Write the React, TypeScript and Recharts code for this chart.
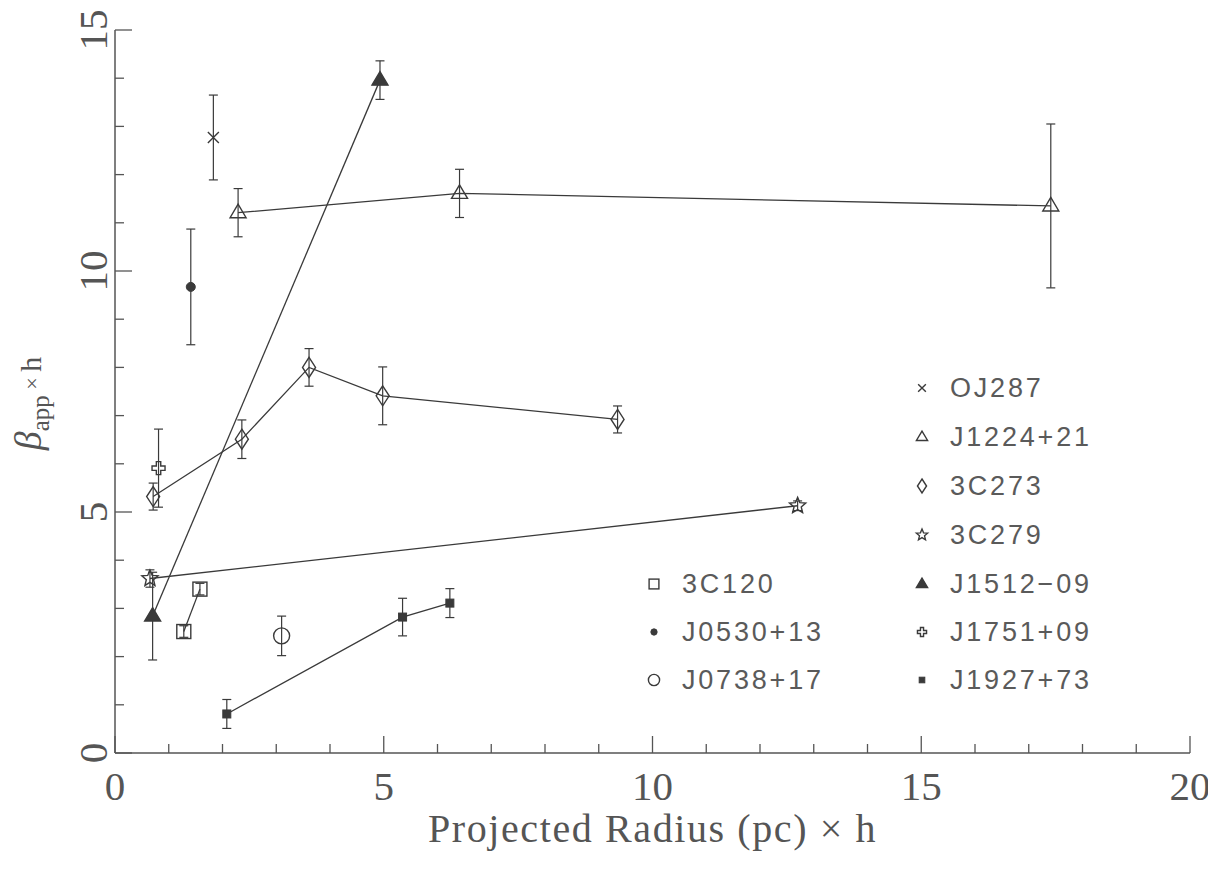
import React from 'react';
import { ScatterChart, Scatter, XAxis, YAxis, ErrorBar, Customized } from 'recharts';

// Projected radius (pc × h), apparent speed (β_app × h) and its 1σ error per jet component
const oj287 = [{ x: 1.83, y: 12.77, err: 0.88 }];
const j1224 = [
  { x: 2.29, y: 11.21, err: 0.5 },
  { x: 6.41, y: 11.61, err: 0.5 },
  { x: 17.41, y: 11.35, err: 1.7 },
];
const c273 = [
  { x: 0.71, y: 5.32, err: 0.28 },
  { x: 2.36, y: 6.51, err: 0.4 },
  { x: 3.61, y: 8.0, err: 0.39 },
  { x: 4.98, y: 7.41, err: 0.6 },
  { x: 9.35, y: 6.92, err: 0.28 },
];
const c279 = [
  { x: 0.65, y: 3.62, err: 0.18 },
  { x: 12.7, y: 5.13, err: 0.1 },
];
const j1512 = [
  { x: 0.7, y: 2.84, err: 0.91 },
  { x: 4.93, y: 13.96, err: 0.4 },
];
const j1751 = [{ x: 0.81, y: 5.91, err: 0.81 }];
const j1927 = [
  { x: 2.08, y: 0.81, err: 0.3 },
  { x: 5.35, y: 2.82, err: 0.39 },
  { x: 6.23, y: 3.11, err: 0.3 },
];
const c120 = [
  { x: 1.28, y: 2.52, err: 0.12 },
  { x: 1.58, y: 3.4, err: 0.12 },
];
const j0530 = [{ x: 1.41, y: 9.67, err: 1.2 }];
const j0738 = [{ x: 3.1, y: 2.43, err: 0.41 }];

const xTicks = [0, 1, 2, 3, 4, 5, 6, 7, 8, 9, 10, 11, 12, 13, 14, 15, 16, 17, 18, 19, 20];
const yTicks = [0, 1, 2, 3, 4, 5, 6, 7, 8, 9, 10, 11, 12, 13, 14, 15];
const xLabelTicks = [0, 5, 10, 15, 20];
const yLabelTicks = [0, 5, 10, 15];

const xTitle = 'Projected Radius (pc) × h';

type Kind =
  | 'cross'
  | 'triOpen'
  | 'diamond'
  | 'star'
  | 'triFill'
  | 'plus'
  | 'sqFill'
  | 'sqOpen'
  | 'dotFill'
  | 'circOpen';

type Series = { name: string; data: { x: number; y: number; err: number }[]; kind: Kind; joined: boolean };

const series: Series[] = [
  { name: 'OJ287', data: oj287, kind: 'cross', joined: false },
  { name: 'J1224+21', data: j1224, kind: 'triOpen', joined: true },
  { name: '3C273', data: c273, kind: 'diamond', joined: true },
  { name: '3C279', data: c279, kind: 'star', joined: true },
  { name: 'J1512−09', data: j1512, kind: 'triFill', joined: true },
  { name: 'J1751+09', data: j1751, kind: 'plus', joined: false },
  { name: 'J1927+73', data: j1927, kind: 'sqFill', joined: true },
  { name: '3C120', data: c120, kind: 'sqOpen', joined: true },
  { name: 'J0530+13', data: j0530, kind: 'dotFill', joined: false },
  { name: 'J0738+17', data: j0738, kind: 'circOpen', joined: false },
];

const rightLegend = ['OJ287', 'J1224+21', '3C273', '3C279', 'J1512−09', 'J1751+09', 'J1927+73'];
const leftLegend = ['3C120', 'J0530+13', 'J0738+17'];

const INK = '#3a3a3a';
const FRAME = '#555';
const TEXT = '#555';
const SERIF = '"Liberation Serif", "DejaVu Serif", serif';
const SANS = '"Liberation Sans", "DejaVu Sans", sans-serif';

function Glyph({ kind, cx, cy, k = 1 }: { kind: Kind; cx: number; cy: number; k?: number }) {
  const st = { stroke: INK, strokeWidth: 1.4, fill: 'none' };
  switch (kind) {
    case 'cross': {
      const r = 5.5 * k;
      return <path d={`M${cx - r},${cy - r}L${cx + r},${cy + r}M${cx - r},${cy + r}L${cx + r},${cy - r}`} {...st} />;
    }
    case 'triOpen':
    case 'triFill': {
      const w = 8 * k;
      const up = 8.5 * k;
      const dn = 5 * k;
      const pts = `${cx},${cy - up} ${cx - w},${cy + dn} ${cx + w},${cy + dn}`;
      return <polygon points={pts} {...st} fill={kind === 'triFill' ? INK : 'none'} strokeLinejoin="miter" />;
    }
    case 'diamond': {
      const w = 6.5 * k;
      const h = 10 * k;
      return <polygon points={`${cx},${cy - h} ${cx + w},${cy} ${cx},${cy + h} ${cx - w},${cy}`} {...st} />;
    }
    case 'star': {
      const ro = 8.5 * k;
      const ri = 3.8 * k;
      const pts: string[] = [];
      for (let i = 0; i < 10; i++) {
        const r = i % 2 === 0 ? ro : ri;
        const a = -Math.PI / 2 + (i * Math.PI) / 5;
        pts.push(`${cx + r * Math.cos(a)},${cy + r * Math.sin(a)}`);
      }
      return <polygon points={pts.join(' ')} {...st} />;
    }
    case 'plus': {
      const a = 2.2 * k;
      const b = 6.5 * k;
      const d = `M${cx - a},${cy - b}H${cx + a}V${cy - a}H${cx + b}V${cy + a}H${cx + a}V${cy + b}H${cx - a}V${cy + a}H${cx - b}V${cy - a}H${cx - a}Z`;
      return <path d={d} {...st} />;
    }
    case 'sqFill': {
      const r = 4 * k;
      return <rect x={cx - r} y={cy - r} width={2 * r} height={2 * r} fill={INK} stroke={INK} strokeWidth={1} />;
    }
    case 'sqOpen': {
      const r = 7 * k;
      return <rect x={cx - r} y={cy - r} width={2 * r} height={2 * r} {...st} />;
    }
    case 'dotFill':
      return <circle cx={cx} cy={cy} r={4.5 * k} fill={INK} stroke={INK} strokeWidth={1} />;
    case 'circOpen':
      return <circle cx={cx} cy={cy} r={8 * k} {...st} />;
    default:
      return null;
  }
}

// Inward tick marks; labels only at the major (multiple of 5) ticks
const BottomTick = (props: any) => {
  const { x, y, payload } = props;
  const v = payload.value as number;
  const major = xLabelTicks.includes(v);
  return (
    <g>
      <line x1={x} x2={x} y1={y} y2={y - (major ? 17 : 9)} stroke={FRAME} strokeWidth={1.3} />
      {major && (
        <text x={x} y={y + 47} textAnchor="middle" fontFamily={SERIF} fontSize={41} fill={TEXT}>
          {v}
        </text>
      )}
    </g>
  );
};

const TopTick = (props: any) => {
  const { x, y, payload } = props;
  const major = xLabelTicks.includes(payload.value);
  return <line x1={x} x2={x} y1={y} y2={y + (major ? 17 : 9)} stroke={FRAME} strokeWidth={1.3} />;
};

const LeftTick = (props: any) => {
  const { x, y, payload } = props;
  const v = payload.value as number;
  const major = yLabelTicks.includes(v);
  const tx = x - 8;
  return (
    <g>
      <line x1={x} x2={x + (major ? 17 : 9)} y1={y} y2={y} stroke={FRAME} strokeWidth={1.3} />
      {major && (
        <text
          x={tx}
          y={y}
          transform={`rotate(-90, ${tx}, ${y})`}
          textAnchor="middle"
          fontFamily={SERIF}
          fontSize={41}
          fill={TEXT}
        >
          {v}
        </text>
      )}
    </g>
  );
};

const RightTick = (props: any) => {
  const { x, y, payload } = props;
  const major = yLabelTicks.includes(payload.value);
  return <line x1={x} x2={x - (major ? 17 : 9)} y1={y} y2={y} stroke={FRAME} strokeWidth={1.3} />;
};

const XTitle = (props: any) => {
  const vb = props.viewBox || {};
  return (
    <text
      x={vb.x + vb.width / 2}
      y={vb.y + 89}
      textAnchor="middle"
      fontFamily={SERIF}
      fontSize={40}
      fill={TEXT}
      letterSpacing={1.6}
    >
      {xTitle}
    </text>
  );
};

const YTitle = (props: any) => {
  const vb = props.viewBox || {};
  const cx = 33;
  const cy = vb.y + vb.height / 2 + 12;
  return (
    <text
      x={cx}
      y={cy}
      transform={`rotate(-90, ${cx}, ${cy})`}
      textAnchor="middle"
      fontFamily={SERIF}
      fill={TEXT}
    >
      <tspan fontStyle="italic" fontSize={38}>β</tspan>
      <tspan fontSize={25} dy={8}>app</tspan>
      <tspan fontSize={22} dy={-10}>{' × '}</tspan>
      <tspan fontSize={30} dy={2}>h</tspan>
    </text>
  );
};

const kindOf = (name: string) => series.find((s) => s.name === name)!.kind;

const LegendBlock = () => {
  const rowsRight = [380, 429, 478, 527, 576, 624, 672];
  const rowsLeft = [576, 624, 672];
  const textStyle = { fontFamily: SANS, fontSize: 27, fill: '#5a5a5a', letterSpacing: 2.8 };
  return (
    <g>
      {rightLegend.map((n, i) => (
        <g key={n}>
          <Glyph kind={kindOf(n)} cx={914} cy={rowsRight[i]} k={0.7} />
          <text x={942} y={rowsRight[i]} dominantBaseline="central" {...textStyle}>
            {n}
          </text>
        </g>
      ))}
      {leftLegend.map((n, i) => (
        <g key={n}>
          <Glyph kind={kindOf(n)} cx={646} cy={rowsLeft[i]} k={0.7} />
          <text x={674} y={rowsLeft[i]} dominantBaseline="central" {...textStyle}>
            {n}
          </text>
        </g>
      ))}
    </g>
  );
};

export default function App() {
  return (
    <div style={{ width: 1208, height: 856, background: '#fff' }}>
      <ScatterChart width={1208} height={856} margin={{ top: 22, right: 26, bottom: 0, left: 0 }}>
        <XAxis
          type="number"
          dataKey="x"
          domain={[0, 20]}
          ticks={xTicks}
          interval={0}
          tickSize={0}
          tickMargin={0}
          tick={<BottomTick />}
          tickLine={false}
          axisLine={{ stroke: FRAME, strokeWidth: 1.5 }}
          height={111}
          allowDataOverflow
          label={<XTitle />}
        />
        <XAxis
          xAxisId="top"
          orientation="top"
          type="number"
          dataKey="x"
          domain={[0, 20]}
          ticks={xTicks}
          interval={0}
          tickSize={0}
          tickMargin={0}
          tick={<TopTick />}
          tickLine={false}
          axisLine={{ stroke: FRAME, strokeWidth: 1.5 }}
          height={0}
          allowDataOverflow
        />
        <YAxis
          type="number"
          dataKey="y"
          domain={[0, 15]}
          ticks={yTicks}
          interval={0}
          tickSize={0}
          tickMargin={0}
          tick={<LeftTick />}
          tickLine={false}
          axisLine={{ stroke: FRAME, strokeWidth: 1.5 }}
          width={107}
          allowDataOverflow
          label={<YTitle />}
        />
        <YAxis
          yAxisId="right"
          orientation="right"
          type="number"
          dataKey="y"
          domain={[0, 15]}
          ticks={yTicks}
          interval={0}
          tickSize={0}
          tickMargin={0}
          tick={<RightTick />}
          tickLine={false}
          axisLine={{ stroke: FRAME, strokeWidth: 1.5 }}
          width={0}
          allowDataOverflow
        />
        {series.map((s) => (
          <Scatter
            key={s.name}
            name={s.name}
            data={s.data}
            isAnimationActive={false}
            line={s.joined ? { stroke: INK, strokeWidth: 1.3 } : false}
            lineJointType="linear"
            shape={(p: any) => <Glyph kind={s.kind} cx={p.cx} cy={p.cy} />}
          >
            <ErrorBar dataKey="err" direction="y" width={4.5} stroke={INK} strokeWidth={1.2} isAnimationActive={false} />
          </Scatter>
        ))}
        <Customized component={<LegendBlock />} />
      </ScatterChart>
    </div>
  );
}
